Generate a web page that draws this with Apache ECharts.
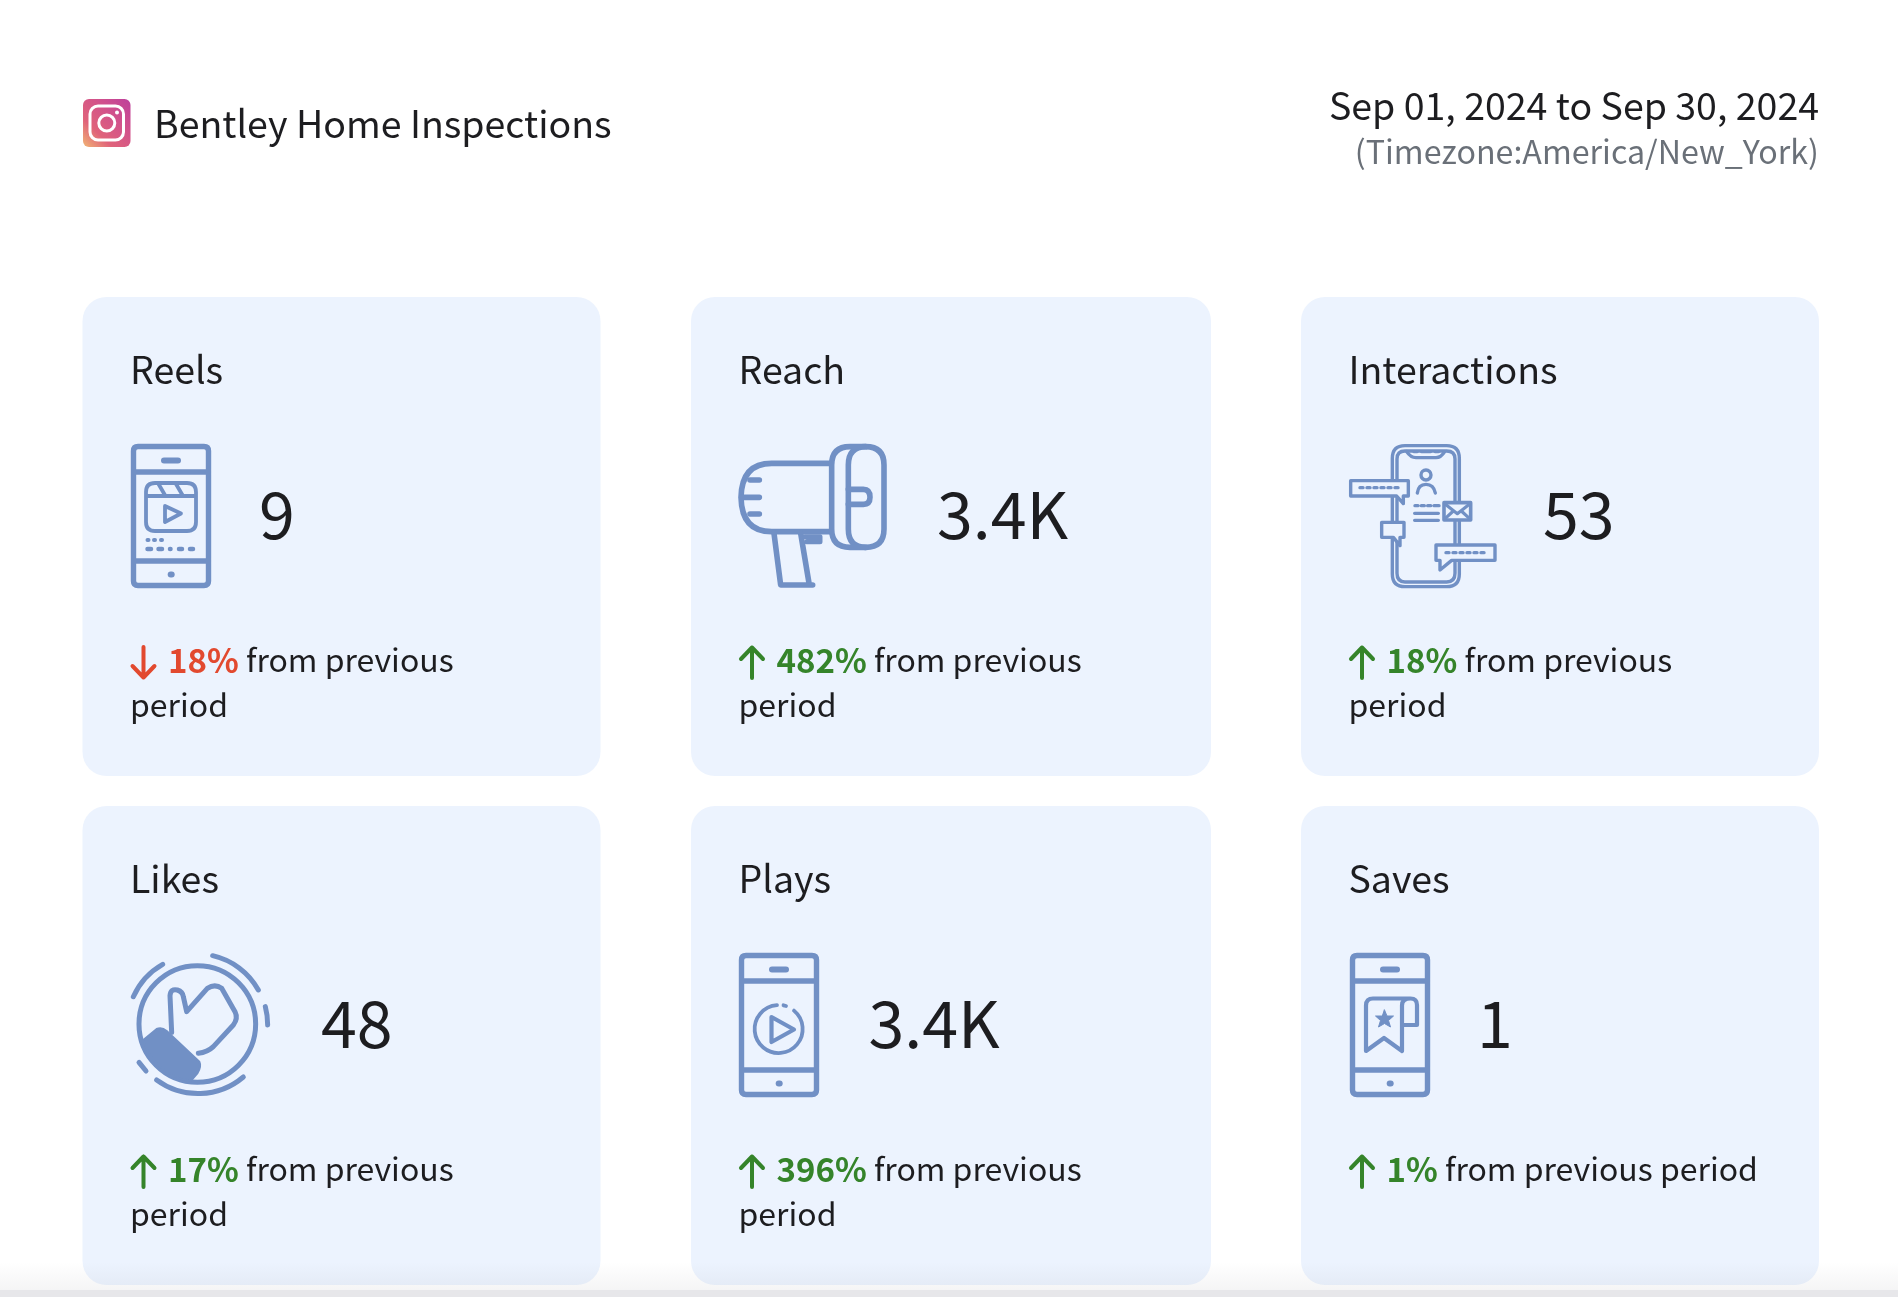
<!DOCTYPE html>
<html><head><meta charset="utf-8">
<script src="https://cdn.jsdelivr.net/npm/echarts@6/dist/echarts.min.js"></script>
<style>html,body{margin:0;padding:0;background:#fff}#c{width:1898px;height:1297px}</style>
</head><body><div id="c"></div>
<script>
// ---- data ----
const accountName = 'Bentley Home Inspections';
const dateRange = 'Sep 01, 2024 to Sep 30, 2024';
const timezoneLabel = '(Timezone:America/New_York)';
const metricNames = ['Reels','Reach','Interactions','Likes','Plays','Saves'];
const metricValues = ['9','3.4K','53','48','3.4K','1'];
const deltaPercents = ['18%','482%','18%','17%','396%','1%'];
const deltaDirections = ['down','up','up','up','up','up'];
const deltaLine1 = ['from previous','from previous','from previous','from previous','from previous','from previous period'];
const deltaLine2 = ['period','period','period','period','period',''];

// ---- layout ----
const FONT = '"Noto Sans CJK JP","Noto Sans",sans-serif';
const INK = '#1d1d20', CARD = '#ecf3fe', BLUE = '#7190c5', RED = '#e2492f', GREEN = '#35842a';
const colX = [82.5, 691, 1301], colW = [518, 520, 518], rowY = [297, 806], cardH = 479;
const valueOffset = [176.5, 246, 242, 238.5, 177.5, 176];

// ---- icon artwork: each is drawn in its own box, strokes in page px ----
const phone = 'M7 2.5H73Q77.5 2.5 77.5 7V137Q77.5 141.5 73 141.5H7Q2.5 141.5 2.5 137V7Q2.5 2.5 7 2.5Z M2.5 28H77.5 M2.5 117H77.5';
const phoneParts = [
  {d: phone, lw: 5.4},
  {d: 'M33 16.5H47', lw: 6},
  {d: 'M39.7 130.5h1', lw: 6}
];
const icons = [
  {box: [80,144], dx: 48.5, dy: 147, parts: phoneParts.concat([
    {d: 'M24 39H56Q65 39 65 48V78Q65 87 56 87H24Q15 87 15 78V48Q15 39 24 39Z M15 52H65 M27.5 40L34.5 52 M45 40L52 52', lw: 3.8},
    {d: 'M34 62L50 69.5L34 78Z', lw: 3.8},
    {d: 'M16.5 96h1 M23 96h1 M30 96h1', lw: 4},
    {d: 'M16.5 105h3.5 M27.5 105h3.5 M39 105h.5 M48 105h3 M59 105h3', lw: 4.5}
  ])},
  {box: [510,480], size: [170,160], dx: 39, dy: 138, parts: [
    {d: 'M300 85H125Q35 85 33 187Q35 290 125 290H300', lw: 5.6},
    {d: 'M60 135H88 M35 187H88 M60 237H88', lw: 5.6},
    {d: 'M407 35Q462 35 462 90V282Q462 337 407 337Q355 337 355 282V90Q355 35 407 35Z', lw: 5.6},
    {d: 'M407 35H360Q305 35 305 90V282Q305 337 360 337H407', lw: 5.6},
    {d: 'M355 163H400Q420 163 420 187Q420 208 400 208H355', lw: 5.6},
    {d: 'M132 295L152 450H248 M212 295L238 450', lw: 5.6},
    {d: 'M225 305H270V320H230', lw: 5}
  ]},
  {box: [510,480], size: [170,160], dx: 39, dy: 138, parts: [
    {d: 'M195 32H320Q358 32 358 70V417Q358 455 320 455H195Q157 455 157 417V70Q157 32 195 32Z', lw: 3.4},
    {d: 'M195 48H320Q345 48 345 72V415Q345 441 320 441H195Q171 441 171 415V72Q171 48 195 48Z', lw: 3.4},
    {d: 'M200 50Q212 68 228 68H288Q303 68 314 50', lw: 3.4},
    {d: 'M222 50h9 M245 50h26 M286 50h9', lw: 3.4},
    {d: 'M258 105A15 15 0 1 1 257.9 105Z', lw: 3.4},
    {d: 'M232 174Q235 148 258 148Q281 148 286 174', lw: 3.4},
    {d: 'M225 212h9 M244 212h9 M263 212h9 M282 212h15 M224 235H295 M224 256H295', lw: 3.4},
    {d: 'M32 137H205V183H190V206L170 183H32Z', lw: 3.4, fill: CARD},
    {d: 'M60 158h9 M81 158h9 M102 158h9 M123 158h9 M144 158h9 M165 158h9', lw: 3.4},
    {d: 'M125 262H192V307H180V332L160 307H125Z', lw: 3.4, fill: CARD},
    {d: 'M288 330H465V376H335L300 405V376H288Z', lw: 3.4, fill: CARD},
    {d: 'M318 353h9 M339 353h9 M360 353h9 M381 353h9 M402 353h9 M423 353h9', lw: 3.4},
    {d: 'M312 203H392V255H312Z', lw: 3.6, fill: CARD},
    {d: 'M316 208L352 236L388 208 M316 250L340 228 M388 250L364 228', lw: 3.2}
  ]},
  {box: [510,480], size: [170,160], dx: 37.5, dy: 139, parts: [
    {d: 'M232 62A175 175 0 1 1 231.9 62Z', lw: 5},
    {d: 'M40 155A210 210 0 0 1 128 58 M278 32A210 210 0 0 1 415 135 M436 185A210 210 0 0 1 443 240 M57 352L78 378 M110 405A210 210 0 0 0 370 396', lw: 5},
    {d: 'M155 262L150 152Q152 130 172 135Q188 140 190 155L200 200L262 130Q285 115 305 130L345 200Q355 220 340 240L280 305Q262 322 235 325', lw: 5},
    {d: 'M70 285L110 252Q125 245 140 258L238 350Q245 365 232 385L212 408A175 175 0 0 1 70 285Z', lw: 2, fill: BLUE}
  ]},
  {box: [80,144], dx: 48, dy: 147, parts: phoneParts.concat([
    {d: 'M55 57.6A24 24 0 1 1 38 52.1', lw: 3.8},
    {d: 'M44.5 52.3L47 53', lw: 3.8},
    {d: 'M32.5 64L55 76.5L32.5 89Z', lw: 4.2}
  ])},
  {box: [80,144], dx: 49, dy: 147, parts: phoneParts.concat([
    {d: 'M60.5 45.5H23Q16 45.5 16 52.5V98L34 85L52 98V52.5Q52 45.5 60.5 45.5Q67 45.5 67 52V72H52', lw: 4.2},
    {d: 'M34.5 57L37 63H43.5L38.5 67.5L40.5 74L34.5 70.5L28.5 74L30.5 67.5L25.5 63H32Z', lw: 1, fill: BLUE}
  ])}
];

function renderCard(params, api) {
  const i = api.value(0);
  const col = i % 3, row = Math.floor(i / 3);
  const x = colX[col], y = rowY[row];
  const icon = icons[i];
  const up = deltaDirections[i] === 'up';
  const accent = up ? GREEN : RED;
  const size = icon.size || icon.box;
  const iconChildren = icon.parts.map(p => ({
    type: 'path',
    silent: true,
    shape: {
      pathData: 'M0 0h0 M' + icon.box[0] + ' ' + icon.box[1] + 'h0 ' + p.d,
      x: 0, y: 0, width: size[0], height: size[1], layout: 'cover'
    },
    style: {fill: p.fill || 'none', stroke: BLUE, lineWidth: p.lw, lineCap: 'round', lineJoin: 'round'}
  }));
  const children = [
    {type: 'rect', shape: {x, y, width: colW[col], height: cardH, r: 24}, style: {fill: CARD}},
    {type: 'text', x: x + 47.5, y: y + 72.5, style: {text: metricNames[i], fill: INK, fontFamily: FONT, fontSize: 37.5, align: 'left', verticalAlign: 'middle'}},
    {type: 'group', x: x + icon.dx, y: y + icon.dy, children: iconChildren},
    {type: 'text', x: x + valueOffset[i], y: y + 217.5, style: {text: metricValues[i], fill: INK, fontFamily: FONT, fontSize: 64.5, align: 'left', verticalAlign: 'middle'}},
    {type: 'path', x: x + 47.5, y: y + 348, silent: true,
      shape: {pathData: 'M0 0h0 M27 35h0 ' + (up ? 'M13.5 33V2.5 M2.5 14L13.5 2.5L24.5 14' : 'M13.5 2V32.5 M2.5 21L13.5 32.5L24.5 21'), x: 0, y: 0, width: 27, height: 35, layout: 'cover'},
      style: {fill: 'none', stroke: accent, lineWidth: 4, lineCap: 'round', lineJoin: 'round'}},
    {type: 'text', x: x + 85.6, y: y + 363, style: {
      text: '{p|' + deltaPercents[i] + '}{r| ' + deltaLine1[i] + '}',
      verticalAlign: 'middle', align: 'left',
      rich: {
        p: {fontFamily: FONT, fontSize: 33, fontWeight: 700, fill: accent, color: accent},
        r: {fontFamily: FONT, fontSize: 32, fill: INK, color: INK}
      }}}
  ];
  if (deltaLine2[i]) children.push({type: 'text', x: x + 47.5, y: y + 407.7, style: {text: deltaLine2[i], fill: INK, fontFamily: FONT, fontSize: 32, align: 'left', verticalAlign: 'middle'}});
  return {type: 'group', children};
}

const chart = echarts.init(document.getElementById('c'), null, {width: 1898, height: 1297});
chart.setOption({
  backgroundColor: '#ffffff',
  animation: false,
  tooltip: {show: false},
  graphic: {elements: [
    {type: 'rect', z: 10, silent: true, shape: {x: 83, y: 99, width: 47.5, height: 48, r: 6},
      style: {fill: {type: 'linear', x: 0, y: 1, x2: 1, y2: 0, colorStops: [
        {offset: 0, color: '#f1b574'}, {offset: .3, color: '#e0637a'}, {offset: .7, color: '#cf4f8e'}, {offset: 1, color: '#bd3f9c'}]}}},
    {type: 'rect', z: 11, silent: true, shape: {x: 90, y: 106, width: 33.5, height: 34, r: 8}, style: {fill: 'none', stroke: '#fff', lineWidth: 3}},
    {type: 'circle', z: 11, silent: true, shape: {cx: 106.8, cy: 123, r: 8}, style: {fill: 'none', stroke: '#fff', lineWidth: 3}},
    {type: 'circle', z: 11, silent: true, shape: {cx: 117, cy: 112.5, r: 2}, style: {fill: '#fff'}},
    {type: 'text', z: 11, x: 154, y: 124, style: {text: accountName, fill: INK, fontFamily: FONT, fontSize: 37.5, align: 'left', verticalAlign: 'middle'}},
    {type: 'text', z: 11, x: 1819, y: 106, style: {text: dateRange, fill: INK, fontFamily: FONT, fontSize: 37.5, align: 'right', verticalAlign: 'middle'}},
    {type: 'text', z: 11, x: 1819, y: 151.5, style: {text: timezoneLabel, fill: '#6a7078', fontFamily: FONT, fontSize: 32.2, align: 'right', verticalAlign: 'middle'}},
    {type: 'rect', z: 100, silent: true, shape: {x: 0, y: 1262, width: 1898, height: 28},
      style: {fill: {type: 'linear', x: 0, y: 0, x2: 0, y2: 1, colorStops: [{offset: 0, color: 'rgba(60,60,70,0)'}, {offset: 1, color: 'rgba(60,60,70,0.05)'}]}}},
    {type: 'rect', z: 100, silent: true, shape: {x: 0, y: 1290, width: 1898, height: 7}, style: {fill: '#e7e7ea'}}
  ]},
  series: [{
    type: 'custom',
    coordinateSystem: 'none',
    silent: true,
    renderItem: renderCard,
    data: metricNames.map((n, i) => [i])
  }]
});
</script></body></html>
